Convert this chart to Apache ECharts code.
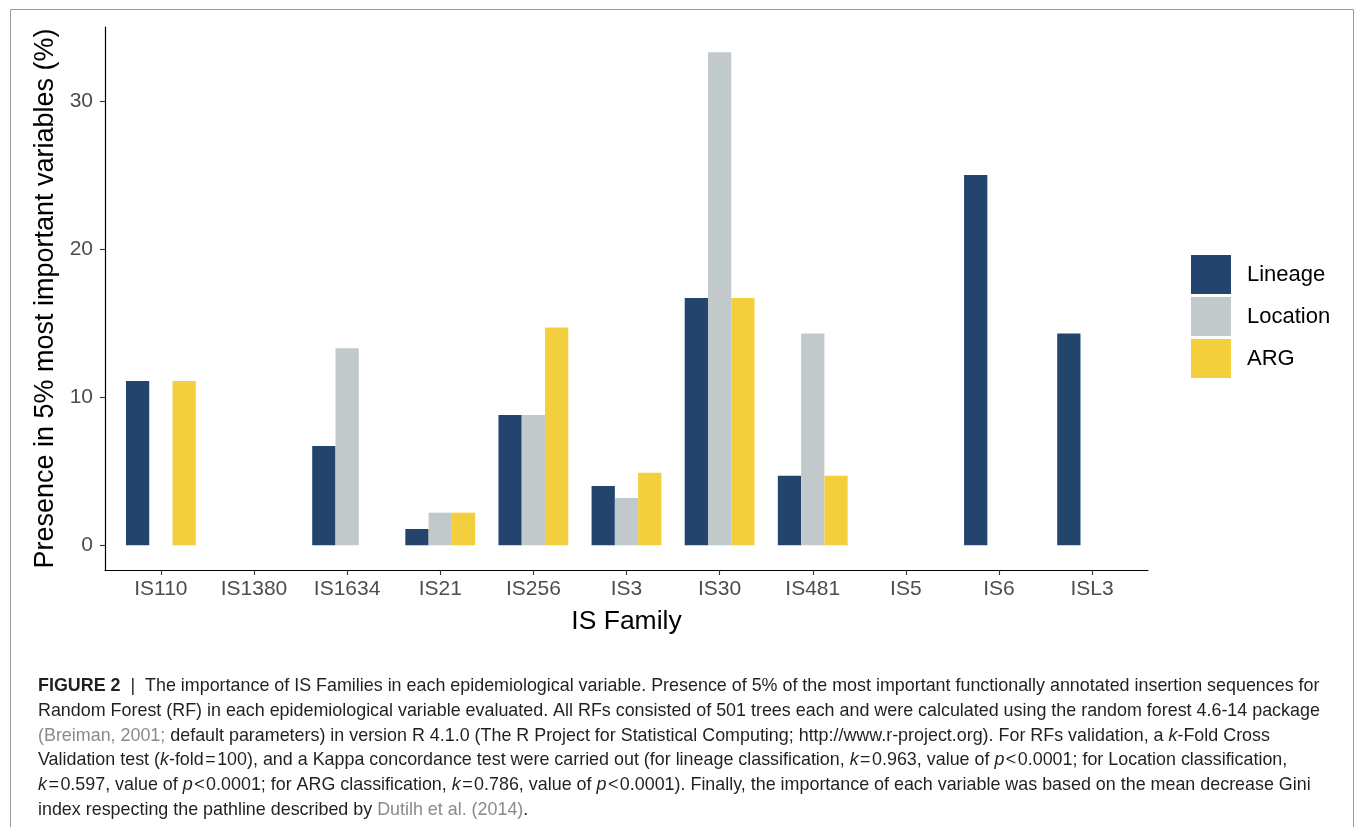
<!DOCTYPE html>
<html>
<head>
<meta charset="utf-8">
<script src="https://cdn.jsdelivr.net/npm/echarts@6/dist/echarts.min.js"></script>
<style>
html,body{margin:0;padding:0;background:#fff;}
#chart{width:1357px;height:827px;}
</style>
</head>
<body>
<div id="chart"></div>
<script>
// ---- data ----
const categories = ['IS110','IS1380','IS1634','IS21','IS256','IS3','IS30','IS481','IS5','IS6','ISL3'];
const lineageVals  = [11.1, null, 6.7, 1.1, 8.8, 4.0, 16.7, 4.7, null, 25.0, 14.3];
const locationVals = [null, null, 13.3, 2.2, 8.8, 3.2, 33.3, 14.3, null, null, null];
const argVals      = [11.1, null, null, 2.2, 14.7, 4.9, 16.7, 4.7, null, null, null];
const yTicks = [0, 10, 20, 30];
const seriesNames = ['Lineage', 'Location', 'ARG'];
const colors = ['#22446d', '#c1c9ca', '#f4cf3d'];

const xTicks = categories.map((c, i) => i + 1);
function toPoints(arr) {
  const out = [];
  arr.forEach((v, i) => { if (v !== null) out.push([i + 1, v]); });
  return out;
}

const FS = 17.9;
const captionFont = FS + 'px "Liberation Sans", Arial, sans-serif';
const rich = {
  b: { font: 'bold ' + FS + 'px "Liberation Sans", Arial, sans-serif', fill: '#231f20' },
  i: { font: 'italic ' + FS + 'px "Liberation Sans", Arial, sans-serif', fill: '#231f20' },
  g: { font: captionFont, fill: '#8a8a8a' }
};
const H = '\u200A';
const captionLines = [
  '{b|FIGURE 2}  |  The importance of IS Families in each epidemiological variable. Presence of 5% of the most important functionally annotated insertion sequences for',
  'Random Forest (RF) in each epidemiological variable evaluated. All RFs consisted of 501 trees each and were calculated using the random forest 4.6-14 package',
  '{g|(Breiman, 2001;} default parameters) in version R 4.1.0 (The R Project for Statistical Computing; http://www.r-project.org). For RFs validation, a {i|k}-Fold Cross',
  'Validation test ({i|k}-fold' + H + '=' + H + '100), and a Kappa concordance test were carried out (for lineage classification, {i|k}' + H + '=' + H + '0.963, value of {i|p}' + H + '<' + H + '0.0001; for Location classification,',
  '{i|k}' + H + '=' + H + '0.597, value of {i|p}' + H + '<' + H + '0.0001; for ARG classification, {i|k}' + H + '=' + H + '0.786, value of {i|p}' + H + '<' + H + '0.0001). Finally, the importance of each variable was based on the mean decrease Gini',
  'index respecting the pathline described by {g|Dutilh et al. (2014)}.'
];

const graphics = [{
  type: 'rect', left: 8, top: 7, silent: true,
  shape: { width: 1343, height: 900 },
  style: { fill: 'none', stroke: '#9a9a9a', lineWidth: 1 }
}];
captionLines.forEach((t, k) => {
  graphics.push({
    type: 'text', x: 38, y: 686 + k * 24.8, silent: true,
    style: { text: t, rich: rich, font: captionFont, fill: '#231f20', verticalAlign: 'middle', align: 'left' }
  });
});

const chart = echarts.init(document.getElementById('chart'), null, { renderer: 'canvas' });
chart.setOption({
  animation: false,
  backgroundColor: '#fff',
  textStyle: { fontFamily: '"Liberation Sans", Arial, sans-serif' },
  grid: { left: 105, right: 209, top: 27, bottom: 257, containLabel: false },
  legend: {
    orient: 'vertical', left: 1191, top: 255, padding: 0,
    itemWidth: 40, itemHeight: 39, itemGap: 3, icon: 'rect',
    data: seriesNames,
    textStyle: { fontSize: 22, color: '#000', padding: [2, 0, 0, 11] }
  },
  xAxis: {
    type: 'value', min: 0.4, max: 11.6,
    name: 'IS Family', nameLocation: 'middle', nameGap: 38,
    nameTextStyle: { fontSize: 26.5, color: '#000' },
    axisLine: { show: true, onZero: false, lineStyle: { color: '#000', width: 1.2 } },
    axisTick: { show: true, length: 5, customValues: xTicks, lineStyle: { color: '#333', width: 1.1 } },
    axisLabel: { customValues: xTicks, fontSize: 21, color: '#4d4d4d', margin: 9,
      formatter: v => categories[Math.round(v) - 1] || '' },
    splitLine: { show: false }
  },
  yAxis: {
    type: 'value', min: -1.67, max: 35,
    name: 'Presence in 5% most important variables (%)', nameLocation: 'middle', nameGap: 43,
    nameTextStyle: { fontSize: 27, color: '#000' },
    axisLine: { show: true, onZero: false, lineStyle: { color: '#000', width: 1.2 } },
    axisTick: { show: true, length: 5, customValues: yTicks, lineStyle: { color: '#333', width: 1.1 } },
    axisLabel: { customValues: yTicks, fontSize: 21, color: '#4d4d4d', margin: 12 },
    splitLine: { show: false }
  },
  graphic: graphics,
  series: [lineageVals, locationVals, argVals].map((arr, k) => ({
    type: 'bar', name: seriesNames[k], data: toPoints(arr),
    itemStyle: { color: colors[k] },
    barGap: '0%', barCategoryGap: '25%'
  }))
});
</script>
</body>
</html>
